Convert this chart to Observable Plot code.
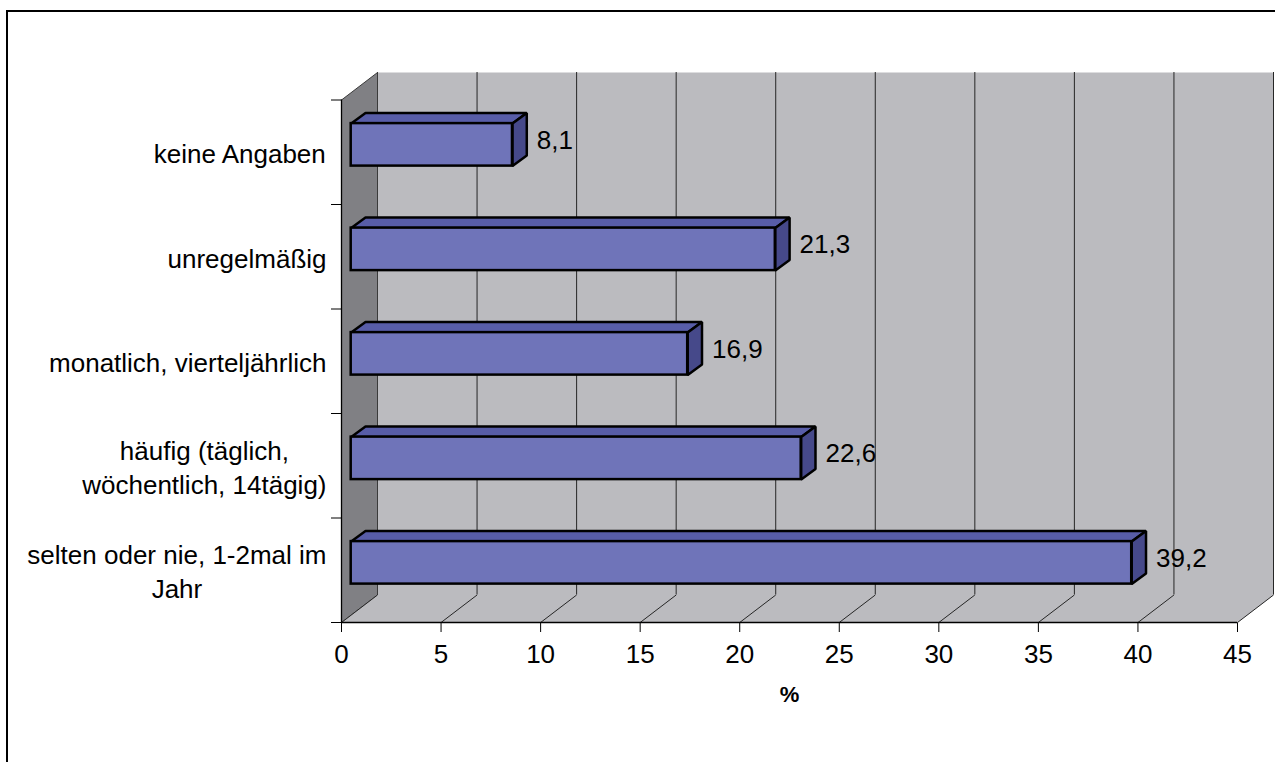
<!DOCTYPE html>
<html>
<head>
<meta charset="utf-8">
<script src="https://cdn.jsdelivr.net/npm/d3@7"></script>
<script src="https://cdn.jsdelivr.net/npm/@observablehq/plot@0.6"></script>
<style>
  html, body { margin: 0; padding: 0; background: #fff; overflow: hidden; }
  #chart { position: absolute; left: 0; top: 0; }
  #border { position: absolute; left: 6px; top: 10px; width: 1400px; height: 900px;
            border: 2px solid #000; pointer-events: none; }
</style>
</head>
<body>
<div id="chart"></div>
<div id="border"></div>
<script>
// Categories (top to bottom) and their shares in percent
const categories = [
  "keine Angaben",
  "unregelmäßig",
  "monatlich, vierteljährlich",
  "häufig (täglich,\nwöchentlich, 14tägig)",
  "selten oder nie, 1-2mal im\nJahr"
];
const values = [8.1, 21.3, 16.9, 22.6, 39.2];
const xTicks = [0, 5, 10, 15, 20, 25, 30, 35, 40, 45];
const axisTitle = "%";

const rows = categories.map((label, i) => ({label, value: values[i], pos: i}));

// Layout
const W = 1275, H = 762;
const M = {top: 99.5, right: 38, bottom: 140, left: 341};
const xMax = 45;
const n = categories.length;
const pxPerX = (W - M.left - M.right) / xMax;
const pxPerY = (H - M.top - M.bottom) / n;

// Oblique projection: pixel offsets expressed in data units
const shift = ([px, py]) => [px / pxPerX, py / pxPerY];
const WALL_PX = [36, -27.5];       // depth of the chart box
const FRONT_PX = [9.7, -7.4];      // bar front face, behind the front plane
const DEPTH_PX = [14.3, -10.5];    // thickness of each bar
const WALL = shift(WALL_PX);
const FRONT = shift(FRONT_PX);
const DEPTH = shift(DEPTH_PX);
const BAR_INSET = 31;              // px above and below each bar
const inset = BAR_INSET / pxPerY;

const add = (a, b) => [a[0] + b[0], a[1] + b[1]];
const poly = (id, pts) => [...pts, pts[0]].map(([x, y]) => ({id, x, y}));

const leftWall = poly("left", [[0, 0], [0, n], add([0, n], WALL), add([0, 0], WALL)]);
const floor = poly("floor", [[0, n], [xMax, n], add([xMax, n], WALL), add([0, n], WALL)]);

const topFaces = [], sideFaces = [];
rows.forEach(({value: v, pos: i}) => {
  const t = i + inset, b = i + 1 - inset;
  const TL = add([0, t], FRONT), TR = add([v, t], FRONT), BR = add([v, b], FRONT);
  topFaces.push(...poly("top" + i, [TL, TR, add(TR, DEPTH), add(TL, DEPTH)]));
  sideFaces.push(...poly("side" + i, [TR, BR, add(BR, DEPTH), add(TR, DEPTH)]));
});

const FONT = "'Liberation Sans', Arial, Helvetica, sans-serif";
const FS = 26;
const ctx = document.createElement("canvas").getContext("2d");
ctx.font = `${FS}px ${FONT}`;
const widest = s => d3.max(s.split("\n"), l => ctx.measureText(l).width);

const de = d3.formatLocale({decimal: ",", thousands: ".", grouping: [3], currency: ["", " €"]});
const fmt = de.format(".1f");

const wallFill = "#BBBBBF";
const gridStroke = "#262626";

const labelMarks = rows.map(r =>
  Plot.text([r], {
    x: () => 0, y: d => d.pos + 0.5, text: "label",
    textAnchor: "middle", lineAnchor: "middle", lineHeight: 1.31,
    dx: -15 - widest(r.label) / 2, fontSize: FS, fill: "black"
  })
);

const chart = Plot.plot({
  width: W, height: H,
  marginTop: M.top, marginRight: M.right, marginBottom: M.bottom, marginLeft: M.left,
  style: {fontFamily: FONT, fontSize: FS + "px", background: "transparent", color: "black", overflow: "visible"},
  x: {domain: [0, xMax], ticks: xTicks, tickSize: 10, tickPadding: 12, label: null},
  y: {domain: [0, n], reverse: true, ticks: 5, tickSize: 10, tickFormat: () => "", label: null},
  marks: [
    // back wall and its gridlines
    Plot.frame({fill: wallFill, stroke: "none", dx: WALL_PX[0], dy: WALL_PX[1]}),
    Plot.ruleX(xTicks, {stroke: gridStroke, strokeWidth: 1, dx: WALL_PX[0], dy: WALL_PX[1]}),
    // side wall and floor
    Plot.line(leftWall, {x: "x", y: "y", z: "id", fill: "#808084", stroke: "#3a3a3a", strokeWidth: 1, strokeLinejoin: "miter"}),
    Plot.line(floor, {x: "x", y: "y", z: "id", fill: wallFill, stroke: "none"}),
    Plot.link(xTicks, {x1: d => d, y1: n, x2: d => d + WALL[0], y2: n + WALL[1], stroke: gridStroke, strokeWidth: 1}),
    // bars
    Plot.line(topFaces, {x: "x", y: "y", z: "id", fill: "#585DA8", stroke: "black", strokeWidth: 2.5, strokeLinejoin: "miter"}),
    Plot.line(sideFaces, {x: "x", y: "y", z: "id", fill: "#46498A", stroke: "black", strokeWidth: 2.5, strokeLinejoin: "miter"}),
    Plot.rect(rows, {
      x1: () => 0, x2: "value", y1: "pos", y2: d => d.pos + 1,
      insetTop: BAR_INSET, insetBottom: BAR_INSET, dx: FRONT_PX[0], dy: FRONT_PX[1],
      fill: "#6F74B9", stroke: "black", strokeWidth: 2.5
    }),
    // axis lines
    Plot.ruleX([0], {stroke: "black", strokeWidth: 1.3}),
    Plot.ruleY([n], {stroke: "black", strokeWidth: 1.3}),
    // value labels
    Plot.text(rows, {
      x: "value", y: d => d.pos + 0.5, text: d => fmt(d.value),
      textAnchor: "start", dx: 34, dy: -12, fontSize: FS, fill: "black"
    }),
    ...labelMarks,
    Plot.text([axisTitle], {frameAnchor: "bottom", dy: 79, fontWeight: "bold", fontSize: 22, fill: "black"})
  ]
});

document.getElementById("chart").append(chart);
</script>
</body>
</html>
